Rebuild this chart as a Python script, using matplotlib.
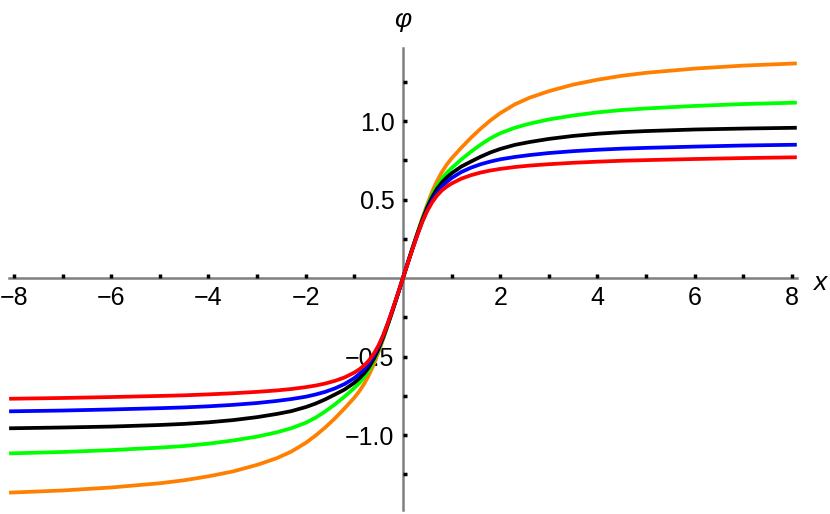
import matplotlib
matplotlib.use("Agg")
import matplotlib.pyplot as plt

# values (x from -8.1 to 8.1)
x = [-8.1, -7.0, -6.0, -5.0, -4.5, -4.0, -3.5, -3.0, -2.6, -2.3, -2.0, -1.8, -1.6, -1.4, -1.2,
     -1.0, -0.9, -0.8, -0.7, -0.6, -0.5, -0.4, -0.3, -0.2, -0.1,
     0.0,
     0.1, 0.2, 0.3, 0.4, 0.5, 0.6, 0.7, 0.8, 0.9, 1.0,
     1.2, 1.4, 1.6, 1.8, 2.0, 2.3, 2.6, 3.0, 3.5, 4.0, 4.5, 5.0, 6.0, 7.0, 8.1]

phi_orange = [-1.367, -1.353, -1.334, -1.307, -1.288, -1.263, -1.232, -1.19, -1.148, -1.106, -1.05, -1.004, -0.952, -0.894, -0.83,
              -0.762, -0.722, -0.675, -0.618, -0.55, -0.47, -0.383, -0.29, -0.195, -0.098,
              0.0,
              0.098, 0.195, 0.29, 0.383, 0.47, 0.55, 0.618, 0.675, 0.722, 0.762,
              0.83, 0.894, 0.952, 1.004, 1.05, 1.106, 1.148, 1.19, 1.232, 1.263, 1.288, 1.307, 1.334, 1.353, 1.367]
phi_green = [-1.117, -1.108, -1.096, -1.08, -1.07, -1.055, -1.035, -1.01, -0.983, -0.957, -0.922, -0.89, -0.85, -0.805, -0.755,
             -0.70, -0.67, -0.632, -0.585, -0.528, -0.458, -0.378, -0.288, -0.195, -0.098,
             0.0,
             0.098, 0.195, 0.288, 0.378, 0.458, 0.528, 0.585, 0.632, 0.67, 0.70,
             0.755, 0.805, 0.85, 0.89, 0.922, 0.957, 0.983, 1.01, 1.035, 1.055, 1.07, 1.08, 1.096, 1.108, 1.117]
phi_black = [-0.957, -0.952, -0.946, -0.936, -0.929, -0.919, -0.905, -0.886, -0.866, -0.848, -0.822, -0.80, -0.773, -0.742, -0.71,
             -0.667, -0.64, -0.608, -0.568, -0.515, -0.45, -0.372, -0.285, -0.193, -0.098,
             0.0,
             0.098, 0.193, 0.285, 0.372, 0.45, 0.515, 0.568, 0.608, 0.64, 0.667,
             0.71, 0.742, 0.773, 0.80, 0.822, 0.848, 0.866, 0.886, 0.905, 0.919, 0.929, 0.936, 0.946, 0.952, 0.957]
phi_blue = [-0.849, -0.844, -0.837, -0.829, -0.824, -0.817, -0.808, -0.796, -0.783, -0.771, -0.756, -0.742, -0.725, -0.703, -0.675,
            -0.637, -0.612, -0.582, -0.543, -0.495, -0.435, -0.362, -0.28, -0.19, -0.097,
            0.0,
            0.097, 0.19, 0.28, 0.362, 0.435, 0.495, 0.543, 0.582, 0.612, 0.637,
            0.675, 0.703, 0.725, 0.742, 0.756, 0.771, 0.783, 0.796, 0.808, 0.817, 0.824, 0.829, 0.837, 0.844, 0.849]
phi_red = [-0.769, -0.764, -0.758, -0.751, -0.747, -0.741, -0.734, -0.725, -0.716, -0.707, -0.695, -0.685, -0.672, -0.655, -0.633,
           -0.602, -0.582, -0.558, -0.525, -0.482, -0.428, -0.36, -0.277, -0.188, -0.095,
           0.0,
           0.095, 0.188, 0.277, 0.36, 0.428, 0.482, 0.525, 0.558, 0.582, 0.602,
           0.633, 0.655, 0.672, 0.685, 0.695, 0.707, 0.716, 0.725, 0.734, 0.741, 0.747, 0.751, 0.758, 0.764, 0.769]

x_major = [-8, -6, -4, -2, 2, 4, 6, 8]
x_minor = [-7, -5, -3, -1, 1, 3, 5, 7]
y_major = [-1.0, -0.5, 0.5, 1.0]
y_minor = [-1.25, -0.75, -0.25, 0.25, 0.75, 1.25]

plt.rcParams['font.family'] = ['Liberation Sans', 'DejaVu Sans']

fig = plt.figure(figsize=(8.3, 5.14), dpi=100)
ax = fig.add_axes([0.011, 0.007, 0.949, 0.8996])

curves = [(phi_orange, '#ff8000'), (phi_green, '#00ff00'), (phi_black, '#000000'),
          (phi_blue, '#0000ff'), (phi_red, '#ff0000')]
for y, col in curves:
    ax.plot(x, y, color=col, lw=2.7, solid_capstyle='butt', solid_joinstyle='round')

ax.set_xlim(-8.1, 8.1)
ax.set_ylim(-1.48, 1.465)

for s in ['top', 'right']:
    ax.spines[s].set_visible(False)
ax.spines['left'].set_position(('data', 0))
ax.spines['bottom'].set_position(('data', 0))
for s in ['left', 'bottom']:
    ax.spines[s].set_color('#7f7f7f')
    ax.spines[s].set_linewidth(1.8)
    ax.spines[s].set_zorder(0.5)

minus = '\u2212'
ax.set_xticks(x_major)
ax.set_xticklabels([('%g' % v).replace('-', minus) for v in x_major])
ax.set_xticks(x_minor, minor=True)
ax.set_yticks(y_major)
ax.set_yticklabels([('%.1f' % v).replace('-', minus) for v in y_major])
ax.set_yticks(y_minor, minor=True)
ax.tick_params(which='both', direction='in', length=3, width=2.5, color='black',
               labelsize=18, pad=6)

fig.text(403 / 830, 1 - 20 / 514, 'φ', fontsize=19, style='italic', ha='center', va='center')
fig.text(820 / 830, 1 - 283 / 514, 'x', fontsize=19, style='italic', ha='center', va='center')

fig.savefig('out.png', dpi=100)
